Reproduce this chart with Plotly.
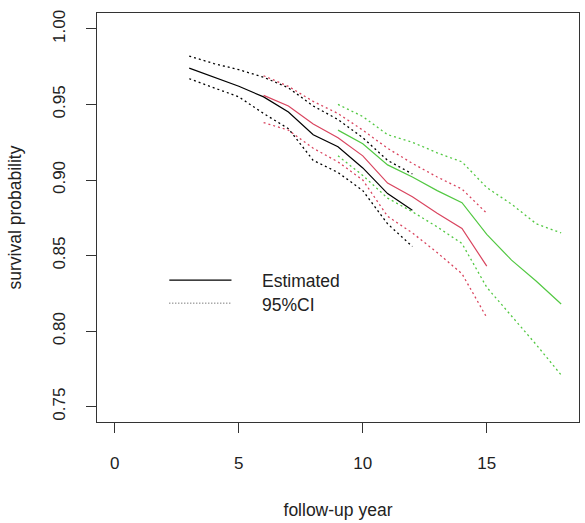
import plotly.graph_objects as go

# Data
years_black = [3, 4, 5, 6, 7, 8, 9, 10, 11, 12]
est_black = [0.974, 0.968, 0.962, 0.955, 0.945, 0.930, 0.922, 0.908, 0.891, 0.880]
upper_black = [0.982, 0.977, 0.973, 0.968, 0.961, 0.949, 0.940, 0.928, 0.913, 0.904]
lower_black = [0.967, 0.961, 0.955, 0.944, 0.934, 0.913, 0.905, 0.893, 0.871, 0.856]

years_red = [6, 7, 8, 9, 10, 11, 12, 13, 14, 15]
est_red = [0.956, 0.949, 0.937, 0.928, 0.916, 0.898, 0.889, 0.878, 0.868, 0.843]
upper_red = [0.969, 0.962, 0.952, 0.944, 0.933, 0.921, 0.911, 0.902, 0.894, 0.878]
lower_red = [0.938, 0.933, 0.921, 0.912, 0.900, 0.876, 0.865, 0.852, 0.838, 0.809]

years_green = [9, 10, 11, 12, 13, 14, 15, 16, 17, 18]
est_green = [0.933, 0.924, 0.910, 0.902, 0.893, 0.885, 0.864, 0.847, 0.833, 0.818]
upper_green = [0.950, 0.942, 0.930, 0.925, 0.918, 0.912, 0.895, 0.884, 0.871, 0.865]
lower_green = [0.916, 0.903, 0.888, 0.879, 0.869, 0.858, 0.829, 0.810, 0.791, 0.771]

x_ticks = [0, 5, 10, 15]
y_ticks = [0.75, 0.80, 0.85, 0.90, 0.95, 1.00]
y_tick_labels = ["0.75", "0.80", "0.85", "0.90", "0.95", "1.00"]
legend_labels = ["Estimated", "95%CI"]

FONT = "Liberation Sans, Arial, sans-serif"
TXT = "#222222"
DOT = "2px,3px"

groups = [
    (years_black, est_black, upper_black, lower_black, "#000000"),
    (years_red, est_red, upper_red, lower_red, "#D9455F"),
    (years_green, est_green, upper_green, lower_green, "#52C842"),
]

fig = go.Figure()
for yrs, est, up, lo, col in groups:
    fig.add_trace(go.Scatter(x=yrs, y=est, mode="lines",
                             line=dict(color=col, width=1.2), showlegend=False))
    for ci in (up, lo):
        fig.add_trace(go.Scatter(x=yrs, y=ci, mode="lines",
                                 line=dict(color=col, width=1.3, dash=DOT),
                                 showlegend=False))

# Legend drawn manually (R-style, no box)
fig.add_shape(type="line", xref="paper", yref="paper",
              x0=0.150, x1=0.279, y0=0.3468, y1=0.3468,
              line=dict(color="#000000", width=1.3))
fig.add_shape(type="line", xref="paper", yref="paper",
              x0=0.150, x1=0.279, y0=0.2906, y1=0.2906,
              line=dict(color="#444444", width=1, dash="1px,2px"))
fig.add_annotation(xref="paper", yref="paper", x=0.339, y=0.345,
                   text=legend_labels[0], showarrow=False, xanchor="left",
                   yanchor="middle", font=dict(family=FONT, size=17.5, color=TXT))
fig.add_annotation(xref="paper", yref="paper", x=0.339, y=0.287,
                   text=legend_labels[1], showarrow=False, xanchor="left",
                   yanchor="middle", font=dict(family=FONT, size=17.5, color=TXT))

fig.update_layout(
    width=585, height=523,
    margin=dict(l=96.5, r=6, t=12.5, b=101),
    paper_bgcolor="white", plot_bgcolor="white",
    font=dict(family=FONT, size=17, color=TXT),
    showlegend=False,
)
fig.update_xaxes(
    range=[-0.72, 18.72], tickvals=x_ticks, ticks="outside", ticklen=10,
    tickcolor="#333", tickwidth=1, showline=True, linecolor="#333", linewidth=1,
    mirror=True, showgrid=False, zeroline=False, ticklabelstandoff=16,
    title=dict(text="follow-up year", standoff=31, font=dict(size=17.5)),
)
fig.update_yaxes(
    range=[0.7399, 1.0105], tickvals=y_ticks, ticktext=y_tick_labels,
    ticks="outside", ticklen=10, tickcolor="#333", tickwidth=1, tickangle=-90,
    showline=True, linecolor="#333", linewidth=1, mirror=True, showgrid=False,
    zeroline=False, ticklabelstandoff=14,
    title=dict(text="survival probability", standoff=24, font=dict(size=17.5)),
)

fig.write_html("out.html")
